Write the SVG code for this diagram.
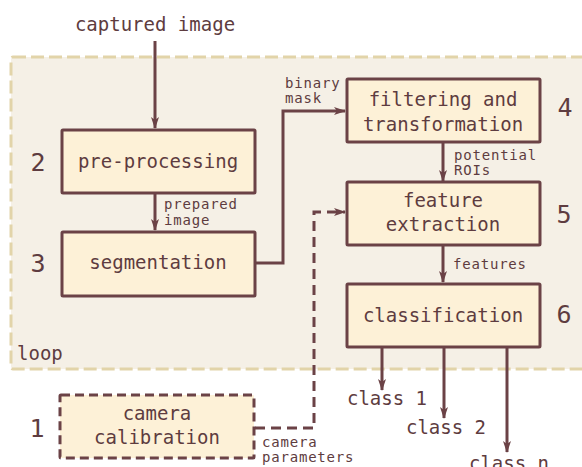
<svg xmlns="http://www.w3.org/2000/svg" width="582" height="467" viewBox="0 0 582 467">
  <style>
    text { font-family: "DejaVu Sans Mono", "Liberation Mono", monospace; fill: #5e3c40; }
    .lbl { font-size: 19px; text-anchor: middle; }
    .sm { font-size: 14px; letter-spacing: 0.8px; }
    .num { font-size: 25px; text-anchor: middle; }
    .box { fill: #fdf1d7; stroke: #6b4246; stroke-width: 3; }
    .wire { fill: none; stroke: #6b4246; stroke-width: 3; }
    .dash { stroke-dasharray: 10 6; }
  </style>
  <defs>
    <marker id="arrow" viewBox="0 0 12 8" markerWidth="12" markerHeight="8" refX="11" refY="4" orient="auto" markerUnits="userSpaceOnUse">
      <path d="M0,0 L12,4 L0,8 L3,4 z" fill="#6b4246"/>
    </marker>
  </defs>

  <!-- processing loop region -->
  <g id="loop">
    <rect x="11" y="57" width="600" height="312" rx="2" fill="#f5f0e6" stroke="#e2d4a9" stroke-width="3" stroke-dasharray="13 5"/>
    <text x="17" y="360" font-size="19px">loop</text>
  </g>

  <!-- connectors -->
  <g id="connectors">
    <path class="wire" d="M155,41 V128" marker-end="url(#arrow)"/>
    <path class="wire" d="M155,193 V230" marker-end="url(#arrow)"/>
    <path class="wire" d="M255,263 H283 V111 H345" marker-end="url(#arrow)"/>
    <path class="wire" d="M443,142 V181" marker-end="url(#arrow)"/>
    <path class="wire" d="M443,245 V282" marker-end="url(#arrow)"/>
    <path class="wire" d="M382,347 V390" marker-end="url(#arrow)"/>
    <path class="wire" d="M444,347 V418" marker-end="url(#arrow)"/>
    <path class="wire" d="M507,347 V452" marker-end="url(#arrow)"/>
    <path class="wire dash" d="M255,428 H314 V212 H345" marker-end="url(#arrow)"/>

    <text x="155" y="31" class="lbl">captured image</text>
    <text class="sm" x="164" y="209">prepared</text>
    <text class="sm" x="164" y="225">image</text>
    <text class="sm" x="285" y="88">binary</text>
    <text class="sm" x="285" y="103">mask</text>
    <text class="sm" x="454" y="160">potential</text>
    <text class="sm" x="454" y="175">ROIs</text>
    <text class="sm" x="453" y="269">features</text>
    <text class="sm" x="262" y="447">camera</text>
    <text class="sm" x="262" y="462">parameters</text>
    <text x="387" y="405" class="lbl">class 1</text>
    <text x="446" y="434" class="lbl">class 2</text>
    <text x="509" y="470" class="lbl">class n</text>
  </g>

  <g id="pre-processing">
    <rect class="box" x="62" y="130" width="193" height="63" rx="1"/>
    <text x="158" y="168" class="lbl">pre-processing</text>
    <text x="38" y="171" class="num">2</text>
  </g>

  <g id="segmentation">
    <rect class="box" x="62" y="232" width="193" height="64" rx="1"/>
    <text x="158" y="269" class="lbl">segmentation</text>
    <text x="38" y="272" class="num">3</text>
  </g>

  <g id="filtering">
    <rect class="box" x="347" y="79" width="193" height="63" rx="1"/>
    <text x="443" y="106" class="lbl">filtering and</text>
    <text x="443" y="131" class="lbl">transformation</text>
    <text x="565" y="116" class="num">4</text>
  </g>

  <g id="feature-extraction">
    <rect class="box" x="347" y="182" width="193" height="63" rx="1"/>
    <text x="443" y="207" class="lbl">feature</text>
    <text x="443" y="231" class="lbl">extraction</text>
    <text x="564" y="223" class="num">5</text>
  </g>

  <g id="classification">
    <rect class="box" x="347" y="284" width="193" height="63" rx="1"/>
    <text x="443" y="322" class="lbl">classification</text>
    <text x="564" y="323" class="num">6</text>
  </g>

  <g id="camera-calibration">
    <rect class="box" x="60" y="395" width="194" height="63" rx="1" stroke-dasharray="9 5"/>
    <text x="157" y="420" class="lbl">camera</text>
    <text x="157" y="444" class="lbl">calibration</text>
    <text x="37" y="437" class="num">1</text>
  </g>
</svg>
